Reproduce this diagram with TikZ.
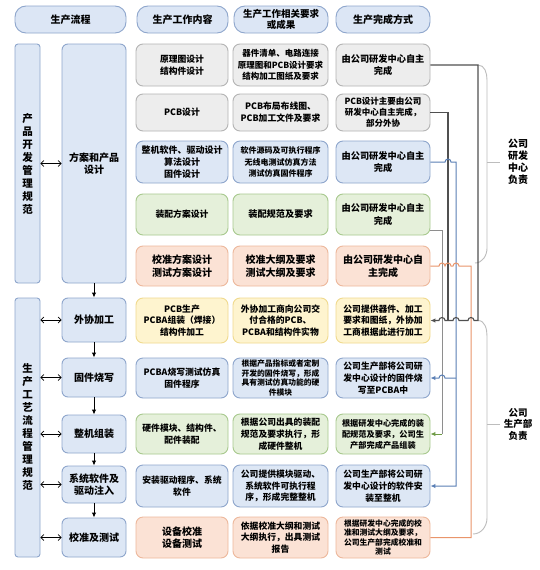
\documentclass[tikz,border=0pt]{standalone}
\usepackage{fontspec}
\setmainfont{Noto Sans CJK SC}
\usetikzlibrary{arrows.meta}
\definecolor{hdrF}{HTML}{DCE6F5}
\definecolor{hdrD}{HTML}{8EA6CC}
\definecolor{grF}{HTML}{EDEDED}
\definecolor{grD}{HTML}{B4B4B4}
\definecolor{buF}{HTML}{DDE7F5}
\definecolor{buD}{HTML}{8EA6CC}
\definecolor{gnF}{HTML}{E5F0DA}
\definecolor{gnD}{HTML}{A8C98E}
\definecolor{peF}{HTML}{FBE2D5}
\definecolor{peD}{HTML}{EDB89C}
\definecolor{yeF}{HTML}{FEF4CF}
\definecolor{yeD}{HTML}{F0DA8E}
\definecolor{dkL}{HTML}{505050}
\definecolor{blL}{HTML}{5A7FB5}
\definecolor{gyL}{HTML}{8E8E8E}
\definecolor{gnL}{HTML}{6E9B45}
\definecolor{orL}{HTML}{E9956B}
\definecolor{brL}{HTML}{BDBDBD}
\newcommand\myfs[2]{\fontsize{#1}{#2}\selectfont\bfseries}
\begin{document}
\begin{tikzpicture}[x=1pt,y=-1pt,
  box/.style={draw, line width=0.9pt, rounded corners=7pt, align=center, inner sep=1pt, font=\myfs{8.8}{11.8}},
  hdr/.style={box, rounded corners=11pt, fill=hdrF, draw=hdrD, font=\myfs{10}{12}, minimum height=27pt},
  gr/.style={fill=grF, draw=grD}, bu/.style={fill=buF, draw=buD}, gn/.style={fill=gnF, draw=gnD},
  pe/.style={fill=peF, draw=peD}, ye/.style={fill=yeF, draw=yeD},
  c3/.style={box, minimum width=92pt}, c4/.style={box, minimum width=95pt}, c5/.style={box, minimum width=94pt},
  proc/.style={box, bu, rounded corners=6pt, minimum width=64pt, font=\myfs{10}{12.5}},
  bar/.style={box, bu, rounded corners=3pt, minimum width=25pt, font=\myfs{10.5}{13}},
  fsmall/.style={font=\myfs{7.8}{9.6}}, fbig/.style={font=\myfs{10}{12.5}},
  tip/.style={-{Latex[length=5pt,width=4.5pt]}},
  dbl/.style={line width=0.7pt, {Straight Barb[length=3pt,width=6pt]}-{Straight Barb[length=3pt,width=6pt]}},
  dn/.style={line width=1pt, tip},
  dkl/.style={draw=dkL, line width=1.1pt}, bll/.style={draw=blL, line width=1pt},
  gyl/.style={draw=gyL, line width=1pt}, gnl/.style={draw=gnL, fill=gnL, line width=1pt},
  orl/.style={draw=orL, line width=1pt}, brl/.style={draw=brL, line width=0.9pt},
  lbl/.style={align=center, inner sep=0pt}
]
\fill[white] (0,0) rectangle (540,570);
\useasboundingbox (0,0) rectangle (540,570);

% headers
\node[hdr, minimum width=111pt] (h1) at (70.5,19.5) {生产流程};
\node[hdr, minimum width=91pt] (h2) at (182.5,19.5) {生产工作内容};
\node[hdr, minimum width=94pt, font=\myfs{9.5}{11}] (h3) at (281,19.5) {生产工作相关要求\\或成果};
\node[hdr, minimum width=94pt] (h4) at (383,19.5) {生产完成方式};

% left bars
\node[bar, minimum height=239pt] (bar1) at (27.5,163.5) {产\\品\\开\\发\\管\\理\\规\\范};
\node[bar, minimum height=259pt] (bar2) at (27.5,427.5) {生\\产\\工\\艺\\流\\程\\管\\理\\规\\范};

% process boxes
\node[proc, minimum height=239pt] (p0) at (94,163.5) {方案和产品\\设计};
\node[proc, minimum height=44pt] (p1) at (94,320) {外协加工};
\node[proc, minimum height=39pt] (p2) at (94,377.5) {固件烧写};
\node[proc, minimum height=38pt] (p3) at (94,434) {整机组装};
\node[proc, minimum height=37pt] (p4) at (94,484.5) {系统软件及\\驱动注入};
\node[proc, minimum height=39pt] (p5) at (94,537.5) {校准及测试};

% row 1
\node[c3, gr, minimum height=42pt] (r1a) at (182,65) {原理图设计\\结构件设计};
\node[c4, gr, minimum height=42pt, font=\myfs{8.5}{11.5}] (r1b) at (280.5,65) {器件清单、电路连接\\原理图和PCB设计要求\\结构加工图纸及要求};
\node[c5, gr, minimum height=42pt, font=\myfs{9.2}{12.5}] (r1c) at (383,65) {由公司研发中心自主\\完成};
% row 2
\node[c3, gr, minimum height=37pt] (r2a) at (182,112.5) {PCB设计};
\node[c4, gr, minimum height=37pt] (r2b) at (280.5,112.5) {PCB布局布线图、\\PCB加工文件及要求};
\node[c5, gr, minimum height=37pt, font=\myfs{8.5}{11}] (r2c) at (383,112.5) {PCB设计主要由公司\\研发中心自主完成，\\部分外协};
% row 3
\node[c3, bu, minimum height=42pt, font=\myfs{9}{12}] (r3a) at (182,162) {整机软件、驱动设计\\算法设计\\固件设计};
\node[c4, bu, minimum height=42pt, font=\myfs{8}{11.5}] (r3b) at (280.5,162) {软件源码及可执行程序\\无线电测试仿真方法\\测试仿真固件程序};
\node[c5, bu, minimum height=42pt, font=\myfs{9.2}{12.5}] (r3c) at (383,162) {由公司研发中心自主\\完成};
% row 4
\node[c3, gn, minimum height=41pt] (r4a) at (182,214.5) {装配方案设计};
\node[c4, gn, minimum height=41pt, font=\myfs{9.2}{12}] (r4b) at (280.5,214.5) {装配规范及要求};
\node[c5, gn, minimum height=41pt, font=\myfs{9.2}{12.5}] (r4c) at (383,214.5) {由公司研发中心自主\\完成};
% row 5
\node[c3, pe, minimum height=40pt, fbig] (r5a) at (182,266) {校准方案设计\\测试方案设计};
\node[c4, pe, minimum height=40pt, fbig] (r5b) at (280.5,266) {校准大纲及要求\\测试大纲及要求};
\node[c5, pe, minimum height=40pt, fbig] (r5c) at (383,266) {由公司研发中心自\\主完成};
% row 6
\node[c3, ye, minimum height=45pt] (r6a) at (182,320.5) {PCB生产\\PCBA组装（焊接）\\结构件加工};
\node[c4, ye, minimum height=45pt] (r6b) at (280.5,320.5) {外协加工商向公司交\\付合格的PCB、\\PCBA和结构件实物};
\node[c5, ye, minimum height=45pt] (r6c) at (383,320.5) {公司提供器件、加工\\要求和图纸，外协加\\工商根据此进行加工};
% row 7
\node[c3, bu, minimum height=40pt] (r7a) at (182,378) {PCBA烧写测试仿真\\固件程序};
\node[c4, bu, minimum height=40pt, fsmall] (r7b) at (280.5,378) {根据产品指标或者定制\\开发的固件烧写，形成\\具有测试仿真功能的硬\\件模块};
\node[c5, bu, minimum height=40pt] (r7c) at (383,378) {公司生产部将公司研\\发中心设计的固件烧\\写至PCBA中};
% row 8
\node[c3, gn, minimum height=40pt] (r8a) at (182,434) {硬件模块、结构件、\\配件装配};
\node[c4, gn, minimum height=40pt] (r8b) at (280.5,434) {根据公司出具的装配\\规范及要求执行，形\\成硬件整机};
\node[c5, gn, minimum height=40pt, font=\myfs{8.2}{11}] (r8c) at (383,434) {根据研发中心完成的装\\配规范及要求，公司生\\产部完成产品组装};
% row 9
\node[c3, bu, minimum height=42pt] (r9a) at (182,486) {安装驱动程序、系统\\软件};
\node[c4, bu, minimum height=42pt] (r9b) at (280.5,486) {公司提供模块驱动、\\系统软件可执行程\\序，形成完整整机};
\node[c5, bu, minimum height=42pt] (r9c) at (383,486) {公司生产部将公司研\\发中心设计的软件安\\装至整机};
% row 10
\node[c3, pe, minimum height=41pt, fbig] (r10a) at (182,537.5) {设备校准\\设备测试};
\node[c4, pe, minimum height=41pt] (r10b) at (280.5,537.5) {依据校准大纲和测试\\大纲执行，出具测试\\报告};
\node[c5, pe, minimum height=41pt, fsmall] (r10c) at (383,537.5) {根据研发中心完成的校\\准和测试大纲及要求，\\公司生产部完成校准和\\测试};

% left double arrows
\draw[dbl] (bar1.east |- p0.west) -- (p0.west);
\draw[dbl] (bar2.east |- p1.west) -- (p1.west);
\draw[dbl] (bar2.east |- p2.west) -- (p2.west);
\draw[dbl] (bar2.east |- p3.west) -- (p3.west);
\draw[dbl] (bar2.east |- p4.west) -- (p4.west);
\draw[dbl] (bar2.east |- p5.west) -- (p5.west);

% down arrows
\draw[dn] (p0.south) -- (p1.north);
\draw[dn] (p1.south) -- (p2.north);
\draw[dn] (p2.south) -- (p3.north);
\draw[dn] (p3.south) -- (p4.north);
\draw[dn] (p4.south) -- (p5.north);

% right connector helper columns
\coordinate (xa) at (442,0);
\coordinate (xb) at (448,0);
\coordinate (xc) at (456,0);
\coordinate (xd) at (471,0);
\coordinate (xe) at (478,0);
\coordinate (r4o) at ([yshift=-16pt]r4c.east);

% brackets
\draw[brl] (xe |- r1c.east) to[out=0,in=90] (487,80) -- (487,248) to[out=-90,in=0] (475,263);
\draw[brl] (487,162) -- (500,162);
\draw[brl] (xe |- r6c.east) to[out=0,in=90] (487,336) -- (487,518) to[out=-90,in=0] (473,534);
\draw[brl] (487,424) -- (500,424);
\node[lbl, font=\myfs{10}{12}] (t1) at (518,162) {公司\\研发\\中心\\负责};
\node[lbl, font=\myfs{9.5}{11.5}] (t2) at (518,424) {公司\\生产部\\负责};

% gray/green: row4 -> row8
\draw[gyl] (r4o) -- (xa |- r4o) -- (xa |- r8c.east);
\draw[gnl, tip] (xa |- r8c.east) -- (r8c.east);
% row2 -> row6 (joins)
\draw[dkl] (r2c.east) -- (xb |- r2c.east) -- (xb |- r6c.east);
% blue: row3 -> row7, row9
\draw[bll, tip] (r3c.east) -- ([xshift=-3pt]xb |- r3c.east) arc[start angle=180,end angle=0,radius=3pt]
  -- (xc |- r3c.east) -- (xc |- r9c.east) -- (r9c.east);
\draw[bll, tip] (xc |- r7c.east) -- ([xshift=3pt]xa |- r7c.east) arc[start angle=0,end angle=180,radius=3pt] -- (r7c.east);
% orange: row5 -> row10
\draw[orl] (r5c.east) -- ([xshift=-3pt]xa |- r5c.east) arc[start angle=180,end angle=0,radius=3pt]
  -- ([xshift=-3pt]xb |- r5c.east) arc[start angle=180,end angle=0,radius=3pt]
  -- ([xshift=-3pt]xc |- r5c.east) arc[start angle=180,end angle=0,radius=3pt]
  -- (xd |- r5c.east) -- (xd |- r10c.east) -- (r10c.east);
% dark: row1 -> row6
\draw[dkl, tip] (r1c.east) -- (xe |- r1c.east) -- (xe |- r6c.east)
  -- ([xshift=3pt]xd |- r6c.east) arc[start angle=0,end angle=180,radius=3pt]
  -- ([xshift=3pt]xc |- r6c.east) arc[start angle=0,end angle=180,radius=3pt]
  -- ([xshift=3pt]xa |- r6c.east) arc[start angle=0,end angle=180,radius=3pt]
  -- (r6c.east);
\end{tikzpicture}
\end{document}
